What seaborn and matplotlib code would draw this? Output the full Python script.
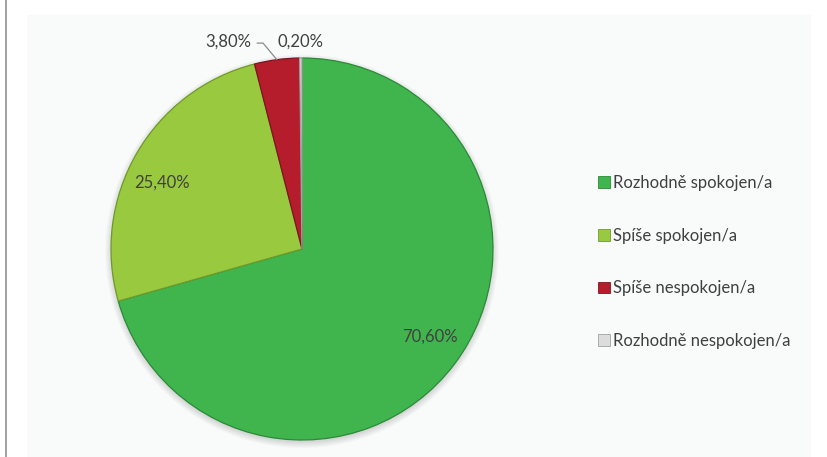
import matplotlib
matplotlib.use("Agg")
import matplotlib.pyplot as plt
import seaborn as sns
import numpy as np
from matplotlib.lines import Line2D
from matplotlib.patches import Rectangle, Patch, Circle

categories = ["Rozhodně spokojen/a", "Spíše spokojen/a", "Spíše nespokojen/a", "Rozhodně nespokojen/a"]
values = [70.6, 25.4, 3.8, 0.2]
value_labels = ["70,60%", "25,40%", "3,80%", "0,20%"]
colors = ["#40b54e", "#98c93f", "#b51d2c", "#dcdcdc"]
edge_colors = ["#2a8a36", "#6f9a2a", "#7e1420", "#a0a0a0"]

sns.set_theme(style="white")
plt.rcParams["font.family"] = ["Lato", "DejaVu Sans"]

W, H = 828, 457
fig = plt.figure(figsize=(W / 100, H / 100), dpi=100)
fig.patch.set_facecolor("white")

# faint plot area + left border line
fig.add_artist(Rectangle((27 / W, 0), (811 - 27) / W, 1 - 15 / H, transform=fig.transFigure,
                         facecolor="#f9fafa", edgecolor="none", zorder=-5))
fig.add_artist(Line2D([6.5 / W, 6.5 / W], [0, 1], transform=fig.transFigure, color="#9a9a9a", lw=1.3))

cx, cy, r = 302, 249, 191
ax = fig.add_axes([(cx - r) / W, (H - cy - r) / H, 2 * r / W, 2 * r / H])
ax.set_facecolor("none")

# soft shadow
for k in range(6):
    ax.add_patch(Circle((0.0, -0.012), 1.0 + 0.006 * k, facecolor="black", edgecolor="none",
                        alpha=0.025, zorder=0, clip_on=False))

wedges, _ = ax.pie(values, colors=colors, startangle=90, counterclock=False,
                   wedgeprops=dict(linewidth=0.9, zorder=2), radius=1.0)
for w, ec in zip(wedges, edge_colors):
    w.set_edgecolor(ec)
    w.set_zorder(2)
ax.set_xlim(-1.0, 1.0)
ax.set_ylim(-1.0, 1.0)
ax.set_aspect("equal")
ax.axis("off")

txt_color = "#404040"
fs = 12
mids = [np.deg2rad((w.theta1 + w.theta2) / 2) for w in wedges]

# inside labels for the two big slices
for i, dist, off in [(0, 0.81, 2.8), (1, 0.81, 4.3)]:
    a = mids[i] + np.deg2rad(off)
    ax.text(dist * np.cos(a), dist * np.sin(a), value_labels[i], ha="center", va="center",
            fontsize=fs, color=txt_color, zorder=5)
# small slices outside
ax.text(-0.387, 1.084, value_labels[2], ha="center", va="center", fontsize=fs, color=txt_color, clip_on=False)
ax.text(-0.01, 1.084, value_labels[3], ha="center", va="center", fontsize=fs, color=txt_color, clip_on=False)
a = mids[2]
ax.plot([-0.235, -0.204, np.cos(a)], [1.078, 1.078, np.sin(a)], color="#8c8c8c", lw=0.9,
        clip_on=False, zorder=5)

handles = [Patch(facecolor=c, edgecolor=e, linewidth=0.6) for c, e in zip(colors, edge_colors)]
leg = fig.legend(handles, categories, loc="center left", bbox_to_anchor=(598 / W, 1 - 262 / H),
                 frameon=False, fontsize=12, handlelength=0.7, handleheight=0.7,
                 handletextpad=0.2, labelspacing=2.2, labelcolor=txt_color, borderaxespad=0,
                 borderpad=0)

fig.savefig("out.png", dpi=100, facecolor="white")
